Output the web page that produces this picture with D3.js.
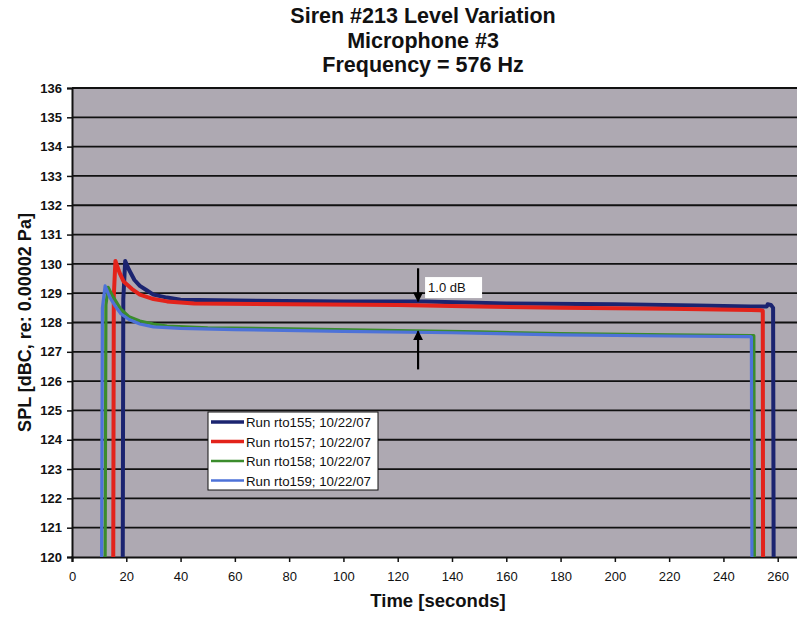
<!DOCTYPE html>
<html>
<head>
<meta charset="utf-8">
<script src="https://cdn.jsdelivr.net/npm/d3@7"></script>
<style>
body { margin:0; background:#fff; }
svg { display:block; font-family: Arial, "Liberation Sans", sans-serif; }
</style>
</head>
<body>
<div id="chart"></div>
<script>
// ---- data ----
var titleLines = ["Siren #213 Level Variation", "Microphone #3", "Frequency = 576 Hz"];
var xTicks = [0,20,40,60,80,100,120,140,160,180,200,220,240,260];
var yTicks = [120,121,122,123,124,125,126,127,128,129,130,131,132,133,134,135,136];

var seriesNames = ["Run rto155; 10/22/07","Run rto157; 10/22/07","Run rto158; 10/22/07","Run rto159; 10/22/07"];
var seriesColors = ["#1b2470","#e3231b","#3b8c2c","#4d72d8"];

var run155T = [18.7, 18.9, 19.6, 21, 23, 25, 27.5, 30, 35, 40, 60, 100, 130, 160, 200, 230, 250, 256, 256.3, 257.5, 258.3, 258.5];
var run155V = [120, 128.8, 130.1, 129.8, 129.45, 129.25, 129.1, 128.95, 128.85, 128.78, 128.75, 128.72, 128.72, 128.65, 128.62, 128.58, 128.55, 128.55, 128.62, 128.6, 128.5, 120];
var run157T = [15.2, 15.4, 16, 17.5, 19, 22, 25, 30, 35, 45, 80, 120, 150, 180, 220, 250, 253.5, 254.5, 254.6];
var run157V = [120, 128.9, 130.1, 129.7, 129.4, 129.15, 128.95, 128.8, 128.72, 128.65, 128.62, 128.6, 128.55, 128.5, 128.47, 128.43, 128.42, 128.4, 120];
var run158T = [12.2, 12.5, 13.3, 15, 18, 21, 25, 30, 35, 50, 80, 120, 150, 180, 220, 250, 251.2, 251.4];
var run158V = [120, 128.6, 129.2, 128.9, 128.45, 128.2, 128.05, 127.95, 127.88, 127.82, 127.78, 127.72, 127.68, 127.62, 127.58, 127.55, 127.55, 120];
var run159T = [10.9, 11.2, 12.2, 14, 16, 18, 21, 25, 30, 40, 60, 100, 140, 180, 220, 248, 250, 250.3, 250.5];
var run159V = [120, 128.5, 129.25, 128.85, 128.55, 128.3, 128.1, 127.95, 127.85, 127.8, 127.76, 127.7, 127.65, 127.58, 127.54, 127.52, 127.52, 127.5, 120];

var W = 797, H = 617;
var margin = {left:72, top:88, right:-35, bottom:60};
var plotW = W - margin.left - margin.right;   // plot runs past the right edge (cropped)
var plotH = H - margin.top - margin.bottom;

var svg = d3.select("#chart").append("svg")
	.attr("width", W).attr("height", H);

var x = d3.scaleLinear().domain([0,280]).range([margin.left, margin.left + plotW]);
var y = d3.scaleLinear().domain([120,136]).range([margin.top + plotH, margin.top]);

// plot area
svg.append("rect")
	.attr("x", x(0)).attr("y", y(136))
	.attr("width", x(280) - x(0)).attr("height", y(120) - y(136))
	.attr("fill", "#aea9b2");

svg.append("defs").append("clipPath").attr("id","clip")
	.append("rect")
	.attr("x", x(0)).attr("y", y(136))
	.attr("width", x(280) - x(0)).attr("height", y(120) - y(136));

// gridlines
svg.append("g").selectAll("line.grid")
	.data(yTicks.slice(1))
	.enter().append("line")
	.attr("class","grid")
	.attr("x1", x(0)).attr("x2", x(280))
	.attr("y1", function(d){ return y(d); }).attr("y2", function(d){ return y(d); })
	.attr("stroke", "#111").attr("stroke-width", 1.8);

// axes
var yAxis = d3.axisLeft(y).tickValues(yTicks).tickSize(5).tickFormat(d3.format("d"));
var gy = svg.append("g").attr("transform", "translate(" + x(0) + ",0)").call(yAxis);
gy.select(".domain").attr("stroke", "#111").attr("stroke-width", 2);
gy.selectAll(".tick line").attr("stroke", "#111").attr("stroke-width", 1.5);
gy.selectAll("text").attr("font-size", "13px").attr("font-weight", "bold").attr("fill", "#111").attr("dx", "-2");

var xAxis = d3.axisBottom(x).tickValues(xTicks).tickSize(5).tickFormat(d3.format("d"));
var gx = svg.append("g").attr("transform", "translate(0," + y(120) + ")").call(xAxis);
gx.select(".domain").attr("stroke", "#111").attr("stroke-width", 2.2);
gx.selectAll(".tick line").attr("stroke", "#111").attr("stroke-width", 1.5);
gx.selectAll("text").attr("font-size", "13px").attr("fill", "#111").attr("dy", "1.2em");

// lines
var series = [
	{t: run155T, v: run155V},
	{t: run157T, v: run157V},
	{t: run158T, v: run158V},
	{t: run159T, v: run159V}
];
var line = d3.line()
	.x(function(d){ return x(d[0]); })
	.y(function(d){ return y(d[1]); });

var lines = svg.append("g").attr("clip-path", "url(#clip)");
series.forEach(function(s, i){
	var pts = s.t.map(function(t, j){ return [t, s.v[j]]; });
	lines.append("path")
		.attr("d", line(pts))
		.attr("fill", "none")
		.attr("stroke", seriesColors[i])
		.attr("stroke-width", (i < 2) ? 4 : 3.2)
		.attr("stroke-linejoin", "round");
});

// 1.0 dB annotation
var annX = x(127.5);
svg.append("defs").append("marker")
	.attr("id","arr").attr("viewBox","0 0 10 10")
	.attr("refX", 9).attr("refY", 5)
	.attr("markerWidth", 4.5).attr("markerHeight", 4.5)
	.attr("orient", "auto")
	.append("path").attr("d","M0,0 L10,5 L0,10 z").attr("fill","#000");
svg.append("line")
	.attr("x1", annX).attr("x2", annX)
	.attr("y1", y(129.85)).attr("y2", y(128.72))
	.attr("stroke","#000").attr("stroke-width",2.2).attr("marker-end","url(#arr)");
svg.append("line")
	.attr("x1", annX).attr("x2", annX)
	.attr("y1", y(126.4)).attr("y2", y(127.7))
	.attr("stroke","#000").attr("stroke-width",2.2).attr("marker-end","url(#arr)");
svg.append("rect")
	.attr("x", annX + 7).attr("y", y(129.55))
	.attr("width", 57).attr("height", 21)
	.attr("fill", "#fff");
svg.append("text")
	.attr("x", annX + 10).attr("y", y(129.55) + 15)
	.attr("font-size", "13px").attr("fill", "#111")
	.text("1.0 dB");

// legend
var lg = svg.append("g").attr("transform", "translate(208,412)");
lg.append("rect")
	.attr("width", 170).attr("height", 78)
	.attr("fill", "#fff").attr("stroke", "#111").attr("stroke-width", 1);
seriesNames.forEach(function(n, i){
	var yy = 10 + i * 19.5;
	lg.append("line")
		.attr("x1", 3).attr("x2", 36).attr("y1", yy).attr("y2", yy)
		.attr("stroke", seriesColors[i]).attr("stroke-width", (i < 2) ? 3.5 : 2.5);
	lg.append("text")
		.attr("x", 38).attr("y", yy + 5)
		.attr("font-size", "13.3px").attr("fill", "#111")
		.text(n);
});

// titles
titleLines.forEach(function(t, i){
	svg.append("text")
		.attr("x", 423).attr("y", 23 + i * 24.5)
		.attr("text-anchor", "middle")
		.attr("font-size", "21.5px").attr("font-weight", "bold").attr("fill", "#111")
		.text(t);
});

svg.append("text")
	.attr("x", 438).attr("y", 607)
	.attr("text-anchor", "middle")
	.attr("font-size", "18.5px").attr("font-weight", "bold").attr("fill", "#111")
	.text("Time [seconds]");

svg.append("text")
	.attr("transform", "translate(31," + ((y(120) + y(136)) / 2) + ") rotate(-90)")
	.attr("text-anchor", "middle")
	.attr("font-size", "18px").attr("font-weight", "bold").attr("fill", "#111")
	.text("SPL [dBC, re: 0.00002 Pa]");
</script>
</body>
</html>
